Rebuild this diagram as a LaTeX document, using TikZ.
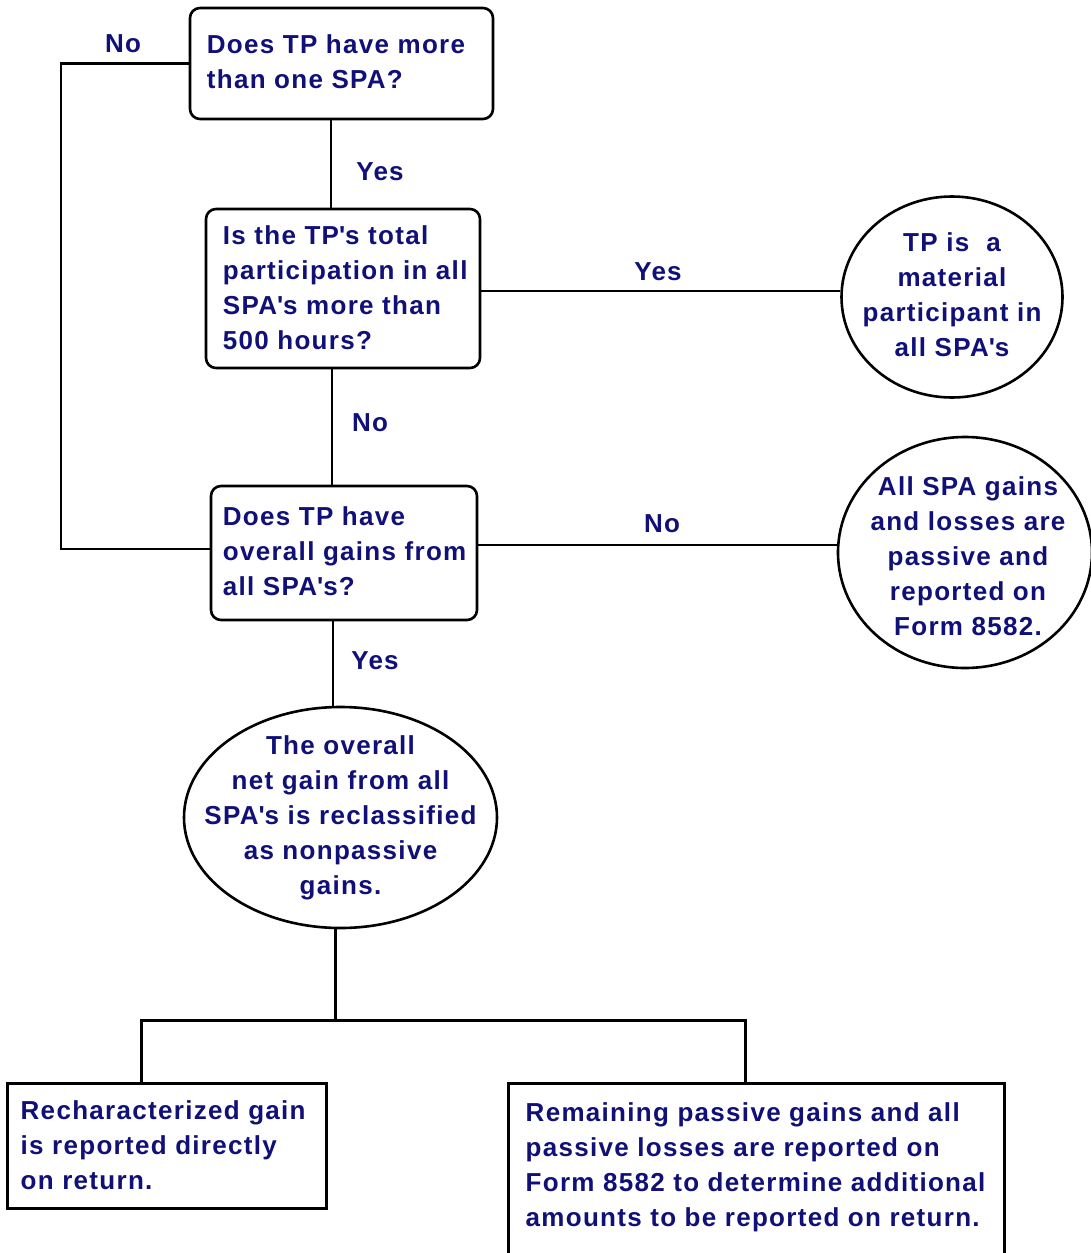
\documentclass[tikz,border=0pt]{standalone}
\usepackage{fontspec}
\setmainfont{Liberation Sans}[LetterSpace=5]
\usetikzlibrary{shapes.geometric}
\definecolor{txtnavy}{RGB}{16,16,120}
\newcommand\apo{\textquotesingle}
\begin{document}
\begin{tikzpicture}[x=1pt,y=-1pt,
  lbl/.style={text=txtnavy, font=\fontsize{26}{35}\selectfont\bfseries, inner sep=0pt},
  txt/.style={lbl, align=left},
  ctxt/.style={lbl, align=center},
  rbox/.style={draw, line width=2.6pt, rounded corners=10pt, inner sep=0pt},
  sbox/.style={draw, line width=3pt, inner sep=0pt},
  oval/.style={draw, ellipse, line width=2.6pt, inner sep=0pt},
  conn/.style={line width=2.6pt},
  bus/.style={line width=3pt},
]
\useasboundingbox (0,0) rectangle (1091,1253);
\fill[white] (0,0) rectangle (1091,1253);

% boxes
\node[rbox, minimum width=303pt, minimum height=111pt] (b1) at (341.5,63.5) {};
\node[rbox, minimum width=274pt, minimum height=159pt] (b2) at (343,288.5) {};
\node[rbox, minimum width=266pt, minimum height=134pt] (b3) at (344,553) {};
\node[sbox, minimum width=319pt, minimum height=125pt] (b4) at (166.5,1145.5) {};
\node[sbox, minimum width=496pt, minimum height=175pt] (b5) at (756,1170.5) {};

% ovals
\node[oval, minimum width=221pt, minimum height=201pt] (c1) at (952,297) {};
\node[oval, minimum width=254pt, minimum height=231pt] (c2) at (965,552.5) {};
\node[oval, minimum width=313pt, minimum height=221pt] (e1) at (340.5,817.5) {};

% texts
\node[txt, anchor=west] (b1t) at ([xshift=18pt,yshift=2pt]b1.west) {Does TP have more\\than one SPA?};
\node[txt, anchor=west] (b2t) at ([xshift=18pt,yshift=1pt]b2.west) {Is the TP\apo s total\\participation in all\\SPA\apo s more than\\500 hours?};
\node[txt, anchor=west] (b3t) at ([xshift=13pt,yshift=2pt]b3.west) {Does TP have\\overall gains from\\all SPA\apo s?};
\node[txt, anchor=west] (b4t) at ([xshift=15pt]b4.west) {Recharacterized gain\\is reported directly\\on return.};
\node[txt, anchor=west] (b5t) at ([xshift=19pt,yshift=3.5pt]b5.west) {Remaining passive gains and all\\passive losses are reported on\\Form 8582 to determine additional\\amounts to be reported on return.};
\node[ctxt] (c1t) at ([yshift=2.5pt]c1.center) {TP is\ \ a\\material\\participant in\\all SPA\apo s};
\node[ctxt] (c2t) at ([xshift=3pt,yshift=-3.5pt]c2.center) {All SPA gains\\and losses are\\passive and\\reported on\\Form 8582.};
\node[ctxt] (e1t) at (e1.center) {The overall\\net gain from all\\SPA\apo s is reclassified\\as nonpassive\\gains.};

% connectors
\coordinate (j1) at (331,0);
\coordinate (j2) at (332,0);
\coordinate (j3) at (333,0);
\coordinate (j4) at (335,0);
\coordinate (h1) at (0,291);
\coordinate (h2) at (0,545);
\coordinate (lp) at (61,549);
\coordinate (busL) at (141,1020);
\coordinate (busR) at (745,1020);

\draw[conn] (b1.south -| j1) -- (b2.north -| j1);
\draw[conn] (b2.east |- h1) -- (c1.west |- h1);
\draw[conn] (b2.south -| j2) -- (b3.north -| j2);
\draw[conn] (b3.east |- h2) -- (c2.west |- h2);
\draw[conn] (b1.west) -| (lp) -- (b3.west |- lp);
\draw[conn] (b3.south -| j3) -- (e1.north -| j3);
\draw[bus] (e1.south -| j4) -- (busL -| j4);
\draw[bus] (b4.north -| busL) -- (busL) -- (busR) -- (b5.north -| busR);

% labels
\node[lbl] (l1) at (123,44) {No};
\node[lbl] (l2) at (380,172) {Yes};
\node[lbl] (l3) at (658,272) {Yes};
\node[lbl] (l4) at (370,423) {No};
\node[lbl] (l5) at (662,524) {No};
\node[lbl] (l6) at (375,661) {Yes};
\end{tikzpicture}
\end{document}
